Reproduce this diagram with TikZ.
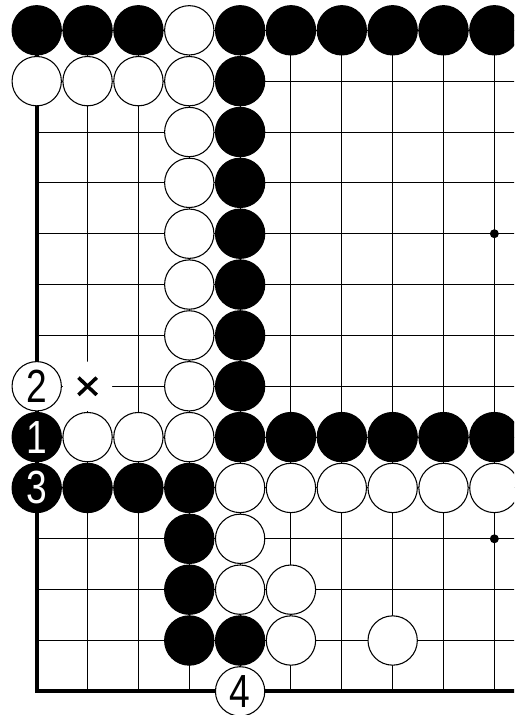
\documentclass[tikz,border=0pt]{standalone}
\usepackage{fontspec}
\setmainfont{Liberation Sans}
\usetikzlibrary{calc}

\newcommand{\numpedra}[1]{\scalebox{0.8}[1]{#1}}

\tikzset{
  linha/.style={line width=0.55pt, black},
  borda/.style={line width=2.2pt, black, line cap=rect},
  pedra/.style={circle, minimum size=0.97cm, inner sep=0pt, line width=0.6pt,
    font=\fontsize{26}{26}\selectfont},
  pedrapreta/.style={pedra, draw=black, fill=black, text=white},
  pedrabranca/.style={pedra, draw=black, fill=white, text=black}
}

\begin{document}
\begin{tikzpicture}
    \clip (-0.722,0.596) rectangle (9.387,-13.465);

    % Grade do tabuleiro
    \foreach \r in {0,...,12}
        \draw[linha] (0,-\r) -- (9.4,-\r);
    \foreach \c in {1,...,9}
        \draw[linha] (\c,0) -- (\c,-13);
    \draw[borda] (0,0) -- (0,-13) -- (9.4,-13);
    \fill (9,-4) circle (0.088);
    \fill (9,-10) circle (0.088);

    % Ponto marcado com x
    \node[circle, fill=white, minimum size=0.97cm, inner sep=0pt] (marca) at (1,-7) {};
    \draw[line width=2pt] ($(marca)+(-0.18,0.17)$) -- ($(marca)+(0.18,-0.17)$);
    \draw[line width=2pt] ($(marca)+(-0.18,-0.17)$) -- ($(marca)+(0.18,0.17)$);

    % Primeira linha
    \foreach \c in {0,1,2,4,5,6,7,8,9}
        \node[pedrapreta] (b0-\c) at (\c,0) {};
    \node[pedrabranca] (w0-3) at (3,0) {};
    \foreach \c in {0,1,2}
        \node[pedrabranca] (w1-\c) at (\c,-1) {};

    % Parede vertical
    \foreach \r in {1,...,7} {
        \node[pedrabranca] (w\r-3) at (3,-\r) {};
        \node[pedrapreta] (b\r-4) at (4,-\r) {};
    }

    % Linhas do meio
    \foreach \c in {1,2,3}
        \node[pedrabranca] (w8-\c) at (\c,-8) {};
    \foreach \c in {4,...,9}
        \node[pedrapreta] (b8-\c) at (\c,-8) {};
    \foreach \c in {1,2,3}
        \node[pedrapreta] (b9-\c) at (\c,-9) {};
    \foreach \c in {4,...,9}
        \node[pedrabranca] (w9-\c) at (\c,-9) {};

    % Canto inferior
    \node[pedrapreta] (b10-3) at (3,-10) {};
    \node[pedrabranca] (w10-4) at (4,-10) {};
    \node[pedrapreta] (b11-3) at (3,-11) {};
    \node[pedrabranca] (w11-4) at (4,-11) {};
    \node[pedrabranca] (w11-5) at (5,-11) {};
    \node[pedrapreta] (b12-3) at (3,-12) {};
    \node[pedrapreta] (b12-4) at (4,-12) {};
    \node[pedrabranca] (w12-5) at (5,-12) {};
    \node[pedrabranca] (w12-7) at (7,-12) {};

    % Lances numerados
    \node[pedrapreta] (lance1) at (0,-8) {\numpedra{1}};
    \node[pedrabranca] (lance2) at (0,-7) {\numpedra{2}};
    \node[pedrapreta] (lance3) at (0,-9) {\numpedra{3}};
    \node[pedrabranca] (lance4) at (4,-13) {\numpedra{4}};
\end{tikzpicture}
\end{document}
